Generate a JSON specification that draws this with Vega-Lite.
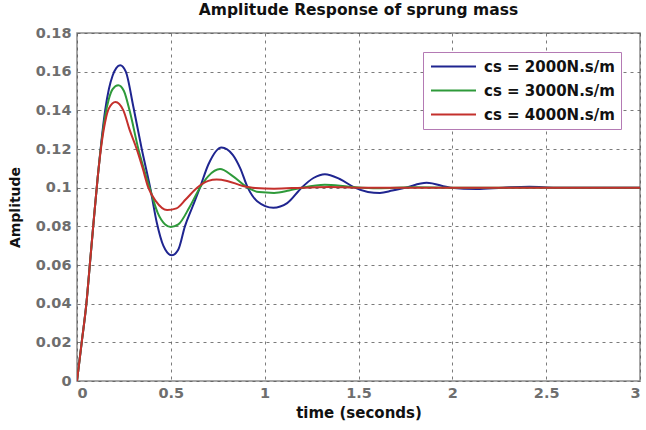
{
  "$schema": "https://vega.github.io/schema/vega-lite/v6.json",
  "width": 563,
  "height": 348,
  "autosize": {"type": "none"},
  "padding": {"left": 77, "top": 33, "right": 6, "bottom": 49},
  "background": "white",
  "title": {
    "text": "Amplitude Response of sprung mass",
    "font": "DejaVu Sans",
    "fontSize": 15.5,
    "fontWeight": "bold",
    "color": "#111111",
    "anchor": "middle",
    "offset": 7
  },
  "config": {
    "view": {"stroke": "#8a8a8a", "strokeWidth": 1.5},
    "axis": {
      "labelFont": "DejaVu Sans",
      "labelFontSize": 14.5,
      "labelFontWeight": "bold",
      "labelColor": "#6e6e6e",
      "titleFont": "DejaVu Sans",
      "titleFontSize": 15,
      "titleFontWeight": "bold",
      "titleColor": "#111111",
      "domain": false,
      "ticks": false,
      "grid": true,
      "gridColor": "#5a5a5a",
      "gridDash": [3, 4],
      "gridWidth": 1,
      "gridOpacity": 0.8
    },
    "legend": {
      "labelFont": "DejaVu Sans",
      "labelFontSize": 15,
      "labelFontWeight": "bold",
      "labelColor": "#111111"
    }
  },
  "data": {
    "values": [
      {"cs": "cs = 2000N.s/m", "t": 0, "amp": 0},
      {"cs": "cs = 2000N.s/m", "t": 0.025, "amp": 0.02},
      {"cs": "cs = 2000N.s/m", "t": 0.05, "amp": 0.04},
      {"cs": "cs = 2000N.s/m", "t": 0.07, "amp": 0.062},
      {"cs": "cs = 2000N.s/m", "t": 0.09, "amp": 0.084},
      {"cs": "cs = 2000N.s/m", "t": 0.11, "amp": 0.105},
      {"cs": "cs = 2000N.s/m", "t": 0.13, "amp": 0.124},
      {"cs": "cs = 2000N.s/m", "t": 0.15, "amp": 0.14},
      {"cs": "cs = 2000N.s/m", "t": 0.17, "amp": 0.151},
      {"cs": "cs = 2000N.s/m", "t": 0.19, "amp": 0.158},
      {"cs": "cs = 2000N.s/m", "t": 0.21, "amp": 0.162},
      {"cs": "cs = 2000N.s/m", "t": 0.23, "amp": 0.1633},
      {"cs": "cs = 2000N.s/m", "t": 0.26, "amp": 0.16},
      {"cs": "cs = 2000N.s/m", "t": 0.3, "amp": 0.142},
      {"cs": "cs = 2000N.s/m", "t": 0.345, "amp": 0.12},
      {"cs": "cs = 2000N.s/m", "t": 0.39, "amp": 0.1},
      {"cs": "cs = 2000N.s/m", "t": 0.425, "amp": 0.082},
      {"cs": "cs = 2000N.s/m", "t": 0.46, "amp": 0.07},
      {"cs": "cs = 2000N.s/m", "t": 0.505, "amp": 0.065},
      {"cs": "cs = 2000N.s/m", "t": 0.54, "amp": 0.068},
      {"cs": "cs = 2000N.s/m", "t": 0.575, "amp": 0.08},
      {"cs": "cs = 2000N.s/m", "t": 0.615, "amp": 0.09},
      {"cs": "cs = 2000N.s/m", "t": 0.655, "amp": 0.1},
      {"cs": "cs = 2000N.s/m", "t": 0.7, "amp": 0.112},
      {"cs": "cs = 2000N.s/m", "t": 0.77, "amp": 0.1208},
      {"cs": "cs = 2000N.s/m", "t": 0.83, "amp": 0.117},
      {"cs": "cs = 2000N.s/m", "t": 0.87, "amp": 0.11},
      {"cs": "cs = 2000N.s/m", "t": 0.91, "amp": 0.1},
      {"cs": "cs = 2000N.s/m", "t": 0.96, "amp": 0.093},
      {"cs": "cs = 2000N.s/m", "t": 1.046, "amp": 0.0896},
      {"cs": "cs = 2000N.s/m", "t": 1.12, "amp": 0.092},
      {"cs": "cs = 2000N.s/m", "t": 1.197, "amp": 0.1},
      {"cs": "cs = 2000N.s/m", "t": 1.26, "amp": 0.105},
      {"cs": "cs = 2000N.s/m", "t": 1.321, "amp": 0.107},
      {"cs": "cs = 2000N.s/m", "t": 1.4, "amp": 0.1045},
      {"cs": "cs = 2000N.s/m", "t": 1.48, "amp": 0.1},
      {"cs": "cs = 2000N.s/m", "t": 1.55, "amp": 0.0978},
      {"cs": "cs = 2000N.s/m", "t": 1.614, "amp": 0.0973},
      {"cs": "cs = 2000N.s/m", "t": 1.68, "amp": 0.0985},
      {"cs": "cs = 2000N.s/m", "t": 1.75, "amp": 0.1},
      {"cs": "cs = 2000N.s/m", "t": 1.863, "amp": 0.1025},
      {"cs": "cs = 2000N.s/m", "t": 1.99, "amp": 0.1},
      {"cs": "cs = 2000N.s/m", "t": 2.13, "amp": 0.0993},
      {"cs": "cs = 2000N.s/m", "t": 2.27, "amp": 0.1},
      {"cs": "cs = 2000N.s/m", "t": 2.41, "amp": 0.1005},
      {"cs": "cs = 2000N.s/m", "t": 2.55, "amp": 0.1},
      {"cs": "cs = 2000N.s/m", "t": 2.7, "amp": 0.0999},
      {"cs": "cs = 2000N.s/m", "t": 2.85, "amp": 0.1},
      {"cs": "cs = 2000N.s/m", "t": 3.0, "amp": 0.1},
      {"cs": "cs = 3000N.s/m", "t": 0, "amp": 0},
      {"cs": "cs = 3000N.s/m", "t": 0.025, "amp": 0.02},
      {"cs": "cs = 3000N.s/m", "t": 0.05, "amp": 0.04},
      {"cs": "cs = 3000N.s/m", "t": 0.07, "amp": 0.062},
      {"cs": "cs = 3000N.s/m", "t": 0.09, "amp": 0.084},
      {"cs": "cs = 3000N.s/m", "t": 0.11, "amp": 0.105},
      {"cs": "cs = 3000N.s/m", "t": 0.13, "amp": 0.123},
      {"cs": "cs = 3000N.s/m", "t": 0.15, "amp": 0.137},
      {"cs": "cs = 3000N.s/m", "t": 0.17, "amp": 0.146},
      {"cs": "cs = 3000N.s/m", "t": 0.19, "amp": 0.151},
      {"cs": "cs = 3000N.s/m", "t": 0.22, "amp": 0.153},
      {"cs": "cs = 3000N.s/m", "t": 0.25, "amp": 0.15},
      {"cs": "cs = 3000N.s/m", "t": 0.28, "amp": 0.14},
      {"cs": "cs = 3000N.s/m", "t": 0.327, "amp": 0.12},
      {"cs": "cs = 3000N.s/m", "t": 0.387, "amp": 0.1},
      {"cs": "cs = 3000N.s/m", "t": 0.43, "amp": 0.087},
      {"cs": "cs = 3000N.s/m", "t": 0.47, "amp": 0.081},
      {"cs": "cs = 3000N.s/m", "t": 0.5, "amp": 0.0797},
      {"cs": "cs = 3000N.s/m", "t": 0.54, "amp": 0.081},
      {"cs": "cs = 3000N.s/m", "t": 0.6, "amp": 0.09},
      {"cs": "cs = 3000N.s/m", "t": 0.655, "amp": 0.1},
      {"cs": "cs = 3000N.s/m", "t": 0.7, "amp": 0.106},
      {"cs": "cs = 3000N.s/m", "t": 0.762, "amp": 0.1096},
      {"cs": "cs = 3000N.s/m", "t": 0.83, "amp": 0.106},
      {"cs": "cs = 3000N.s/m", "t": 0.91, "amp": 0.1},
      {"cs": "cs = 3000N.s/m", "t": 0.97, "amp": 0.0977},
      {"cs": "cs = 3000N.s/m", "t": 1.05, "amp": 0.0973},
      {"cs": "cs = 3000N.s/m", "t": 1.13, "amp": 0.0985},
      {"cs": "cs = 3000N.s/m", "t": 1.2, "amp": 0.1},
      {"cs": "cs = 3000N.s/m", "t": 1.32, "amp": 0.1015},
      {"cs": "cs = 3000N.s/m", "t": 1.45, "amp": 0.1005},
      {"cs": "cs = 3000N.s/m", "t": 1.6, "amp": 0.0997},
      {"cs": "cs = 3000N.s/m", "t": 1.8, "amp": 0.1002},
      {"cs": "cs = 3000N.s/m", "t": 2.0, "amp": 0.1},
      {"cs": "cs = 3000N.s/m", "t": 2.5, "amp": 0.1},
      {"cs": "cs = 3000N.s/m", "t": 3.0, "amp": 0.1},
      {"cs": "cs = 4000N.s/m", "t": 0, "amp": 0},
      {"cs": "cs = 4000N.s/m", "t": 0.025, "amp": 0.02},
      {"cs": "cs = 4000N.s/m", "t": 0.05, "amp": 0.04},
      {"cs": "cs = 4000N.s/m", "t": 0.07, "amp": 0.062},
      {"cs": "cs = 4000N.s/m", "t": 0.09, "amp": 0.084},
      {"cs": "cs = 4000N.s/m", "t": 0.11, "amp": 0.105},
      {"cs": "cs = 4000N.s/m", "t": 0.13, "amp": 0.122},
      {"cs": "cs = 4000N.s/m", "t": 0.15, "amp": 0.134},
      {"cs": "cs = 4000N.s/m", "t": 0.17, "amp": 0.141},
      {"cs": "cs = 4000N.s/m", "t": 0.205, "amp": 0.1443},
      {"cs": "cs = 4000N.s/m", "t": 0.247, "amp": 0.14},
      {"cs": "cs = 4000N.s/m", "t": 0.28, "amp": 0.13},
      {"cs": "cs = 4000N.s/m", "t": 0.318, "amp": 0.12},
      {"cs": "cs = 4000N.s/m", "t": 0.35, "amp": 0.11},
      {"cs": "cs = 4000N.s/m", "t": 0.38, "amp": 0.1},
      {"cs": "cs = 4000N.s/m", "t": 0.42, "amp": 0.093},
      {"cs": "cs = 4000N.s/m", "t": 0.48, "amp": 0.0884},
      {"cs": "cs = 4000N.s/m", "t": 0.53, "amp": 0.0893},
      {"cs": "cs = 4000N.s/m", "t": 0.58, "amp": 0.094},
      {"cs": "cs = 4000N.s/m", "t": 0.64, "amp": 0.1},
      {"cs": "cs = 4000N.s/m", "t": 0.7, "amp": 0.1035},
      {"cs": "cs = 4000N.s/m", "t": 0.744, "amp": 0.1042},
      {"cs": "cs = 4000N.s/m", "t": 0.8, "amp": 0.1035},
      {"cs": "cs = 4000N.s/m", "t": 0.88, "amp": 0.101},
      {"cs": "cs = 4000N.s/m", "t": 0.95, "amp": 0.0998},
      {"cs": "cs = 4000N.s/m", "t": 1.05, "amp": 0.0995},
      {"cs": "cs = 4000N.s/m", "t": 1.2, "amp": 0.1},
      {"cs": "cs = 4000N.s/m", "t": 1.35, "amp": 0.1004},
      {"cs": "cs = 4000N.s/m", "t": 1.5, "amp": 0.1},
      {"cs": "cs = 4000N.s/m", "t": 2.0, "amp": 0.1},
      {"cs": "cs = 4000N.s/m", "t": 2.5, "amp": 0.1},
      {"cs": "cs = 4000N.s/m", "t": 3.0, "amp": 0.1}
    ]
  },
  "mark": {"type": "line", "strokeWidth": 2, "interpolate": "monotone", "clip": true},
  "encoding": {
    "x": {
      "field": "t",
      "type": "quantitative",
      "scale": {"domain": [0, 3], "nice": false},
      "axis": {
        "values": [0, 0.5, 1, 1.5, 2, 2.5, 3],
        "format": "~g",
        "labelPadding": 5,
        "title": "time (seconds)",
        "titlePadding": 6
      }
    },
    "y": {
      "field": "amp",
      "type": "quantitative",
      "scale": {"domain": [0, 0.18], "nice": false},
      "axis": {
        "values": [0, 0.02, 0.04, 0.06, 0.08, 0.1, 0.12, 0.14, 0.16, 0.18],
        "format": "~g",
        "labelPadding": 6,
        "title": "Amplitude",
        "titleFontSize": 14,
        "titleX": -55,
        "titleY": 174
      }
    },
    "color": {
      "field": "cs",
      "type": "nominal",
      "scale": {
        "domain": ["cs = 2000N.s/m", "cs = 3000N.s/m", "cs = 4000N.s/m"],
        "range": ["#1f2590", "#2e9a3a", "#c4302c"]
      },
      "legend": {
        "title": null,
        "orient": "none",
        "legendX": 346,
        "legendY": 19,
        "symbolType": "M-3,0H3",
        "symbolSize": 225,
        "symbolStrokeWidth": 2,
        "symbolOffset": 16,
        "labelOffset": 22,
        "padding": 6,
        "rowPadding": 7,
        "strokeColor": "#b47ab4",
        "fillColor": "white",
        "cornerRadius": 0
      }
    }
  }
}
